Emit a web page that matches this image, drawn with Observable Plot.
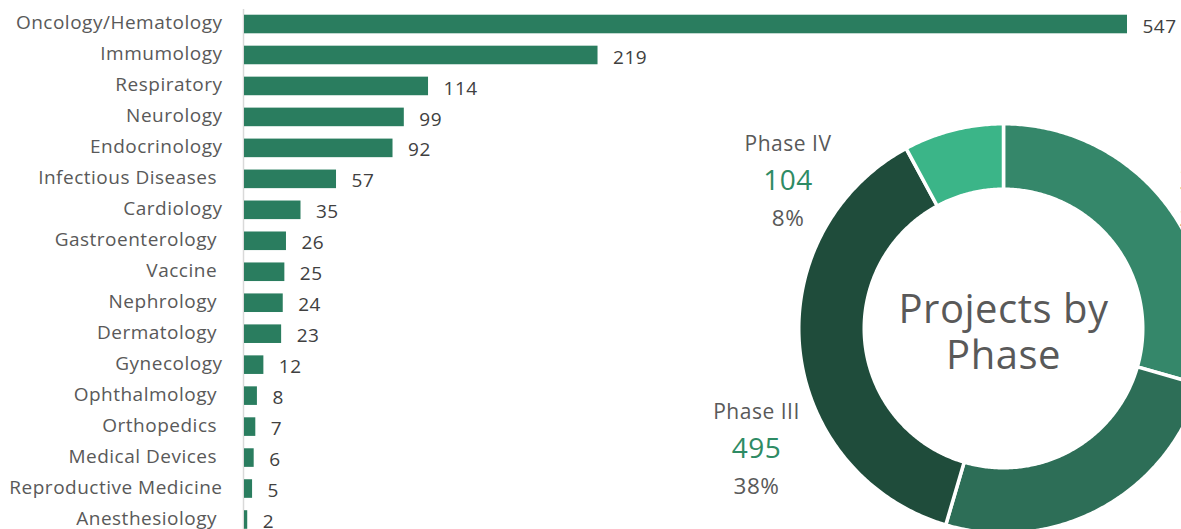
<!DOCTYPE html>
<html><head><meta charset="utf-8">
<script src="https://cdn.jsdelivr.net/npm/d3@7"></script>
<script src="https://cdn.jsdelivr.net/npm/@observablehq/plot@0.6"></script>
<style>
html,body{margin:0;padding:0;background:#fff;overflow:hidden;}
#wrap{position:relative;width:1181px;height:529px;overflow:hidden;}
#bars{position:absolute;left:0;top:0;}
#donut{position:absolute;left:652.5px;top:78.3px;}
#donut svg, #bars svg{max-width:none;}
</style></head><body><div id="wrap"><div id="bars"></div><div id="donut"></div></div>
<script>
// ---- data ----
const categories = ["Oncology/Hematology","Immumology","Respiratory","Neurology","Endocrinology","Infectious Diseases\u00a0","Cardiology","Gastroenterology\u00a0","Vaccine\u00a0","Nephrology\u00a0","Dermatology\u00a0","Gynecology","Ophthalmology\u00a0","Orthopedics\u00a0","Medical Devices\u00a0","Reproductive Medicine","Anesthesiology\u00a0"];
const projects = [547,219,114,99,92,57,35,26,25,24,23,12,8,7,6,5,2];
const phases = ["Phase I","Phase II","Phase III","Phase IV"];
const phaseProjects = [388,331,495,104];
const phasePercents = ["29%","25%","38%","8%"];
const donutTitle = "Projects by\nPhase";

// ---- layout / style ----
const phaseColors = ["#35876A","#2D6E57","#1F4C3B","#3BB588"];
const labelLayout = {"Phase I": {x: 176, y: -184, anchor: "start"}, "Phase II": {x: 260, y: 300, anchor: "start"}, "Phase III": {x: -247, y: 84, anchor: "middle"}, "Phase IV": {x: -215.5, y: -184, anchor: "middle"}};
const font = "'Open Sans', sans-serif";

const rows = categories.map((c, i) => ({category: c, value: projects[i]}));

const barPlot = Plot.plot({
  width: 1181, height: 529,
  marginTop: 9, marginBottom: 0, marginLeft: 244, marginRight: 0,
  style: {fontFamily: font, fontSize: "19px", letterSpacing: "0.5px", background: "transparent", color: "#595959"},
  x: {domain: [0, d3.max(projects)], range: [244, 1127], axis: null},
  y: {domain: categories, range: [8.515, 534.99], paddingInner: 0.4, paddingOuter: 0.2, round: false, axis: null},
  marks: [
    Plot.ruleX([0], {stroke: "#d9d9d9", strokeWidth: 1.5, dx: -1}),
    Plot.barX(rows, {x: "value", y: "category", fill: "#2A7D5F"}),
    Plot.axisY({tickSize: 0, tickPadding: 22, dy: -1.5, fill: "#595959", fontSize: 19, label: null}),
    Plot.text(rows, {x: "value", y: "category", text: d => String(d.value), textAnchor: "start", dx: 15, dy: 2, fill: "#404040", fontSize: 19})
  ]
});
document.getElementById("bars").appendChild(barPlot);

// ---- donut ----
const R = 204.75, r = 139.25;
const arcs = d3.pie().sort(null).value(d => d)(phaseProjects);
const pts = [];
arcs.forEach((s, i) => {
  const n = Math.max(2, Math.ceil((s.endAngle - s.startAngle) / 0.01));
  for (let k = 0; k <= n; k++) {
    const a = s.startAngle + (s.endAngle - s.startAngle) * k / n;
    pts.push({phase: phases[i], x: R * Math.sin(a), y: -R * Math.cos(a)});
  }
  for (let k = n; k >= 0; k--) {
    const a = s.startAngle + (s.endAngle - s.startAngle) * k / n;
    pts.push({phase: phases[i], x: r * Math.sin(a), y: -r * Math.cos(a)});
  }
});
const labels = phases.map((p, i) => ({phase: p, value: phaseProjects[i], pct: phasePercents[i], ...labelLayout[p]}));
const labelMarks = (anchor) => {
  const L = labels.filter(d => d.anchor === anchor);
  return [
    Plot.text(L, {x: "x", y: "y", text: "phase", textAnchor: anchor, fontSize: 21, fill: "#595959", lineAnchor: "middle"}),
    Plot.text(L, {x: "x", y: d => d.y + 37, text: d => String(d.value), textAnchor: anchor, fontSize: 28, fill: "#2E8B64", lineAnchor: "middle"}),
    Plot.text(L, {x: "x", y: d => d.y + 74, text: "pct", textAnchor: anchor, fontSize: 22.5, fill: "#595959", lineAnchor: "middle"})
  ];
};

const donutPlot = Plot.plot({
  width: 700, height: 500, margin: 0,
  style: {fontFamily: font, letterSpacing: "0.5px", background: "transparent"},
  x: {domain: [-350, 350], range: [0, 700], axis: null},
  y: {domain: [-250, 250], range: [0, 500], axis: null},
  color: {domain: phases, range: phaseColors},
  marks: [
    Plot.line(pts, {x: "x", y: "y", z: "phase", fill: "phase", stroke: "white", strokeWidth: 3.5, curve: "linear-closed"}),
    Plot.text([donutTitle], {x: () => 0, y: () => 2.8, text: d => d, fontSize: 40, lineHeight: 1.14, fill: "#595959", textAnchor: "middle", lineAnchor: "middle"}),
    ...labelMarks("middle"),
    ...labelMarks("start")
  ]
});
document.getElementById("donut").appendChild(donutPlot);
</script></body></html>
